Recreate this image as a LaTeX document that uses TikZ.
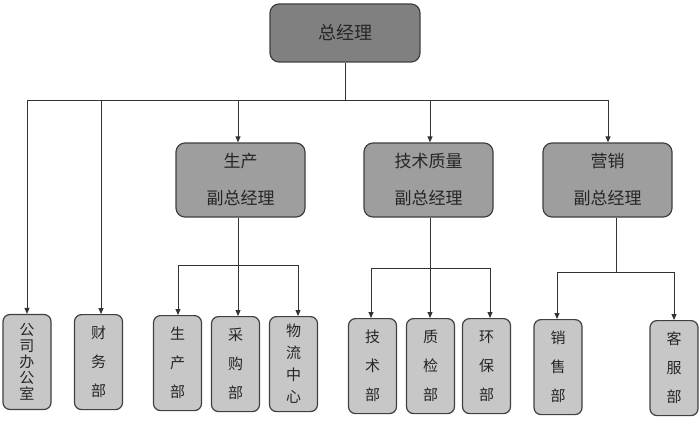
\documentclass[tikz,border=0pt]{standalone}
\usepackage{fontspec}
\setmainfont{Noto Sans CJK SC}
\usetikzlibrary{arrows.meta}
\begin{document}
\begin{tikzpicture}[x=1pt,y=-1pt,
  topbox/.style={draw=black!75,line width=1.2pt,rounded corners=9pt,fill=black!50,minimum width=150pt,minimum height=58pt,font=\fontsize{18pt}{20pt}\selectfont,text=black!85},
  midbox/.style={draw=black!75,line width=1.2pt,rounded corners=9pt,fill=black!38,minimum width=129pt,minimum height=74pt,align=center,font=\fontsize{17pt}{37pt}\selectfont,text=black!85},
  leafbox/.style={draw=black!75,line width=1.2pt,rounded corners=7pt,fill=black!22,minimum width=48pt,minimum height=95pt,align=center,font=\fontsize{15pt}{29pt}\selectfont,text=black!85},
  conn/.style={draw=black!80,line width=0.9pt},
  arr/.style={conn,-{Triangle[length=6pt,width=5pt]}}]
\useasboundingbox (0,0) rectangle (700,425);
\fill[white] (0,0) rectangle (700,425);
% top
\node[topbox] (gm) at (345,33) {总经理};
% middle
\node[midbox] (vp1) at (240.5,180) {生产\\副总经理};
\node[midbox] (vp2) at (428.5,180) {技术质量\\副总经理};
\node[midbox] (vp3) at (607.5,180) {营销\\副总经理};
% leaves
\node[leafbox,font=\fontsize{15pt}{16pt}\selectfont] (l1) at (27,362) {公\\司\\办\\公\\室};
\node[leafbox,anchor=north] (l2) at (98.5,314) {财\\务\\部};
\node[leafbox,anchor=north] (l3) at (177.5,315) {生\\产\\部};
\node[leafbox,anchor=north] (l4) at (235.5,316) {采\\购\\部};
\node[leafbox,anchor=north,font=\fontsize{15pt}{22pt}\selectfont] (l5) at (293.5,316) {物\\流\\中\\心};
\node[leafbox,anchor=north] (l6) at (372.5,318) {技\\术\\部};
\node[leafbox,anchor=north] (l7) at (430.5,318) {质\\检\\部};
\node[leafbox,anchor=north] (l8) at (486.5,318) {环\\保\\部};
\node[leafbox,anchor=north] (l9) at (558,319) {销\\售\\部};
\node[leafbox,anchor=north] (l10) at (674,320) {客\\服\\部};
% coordinates
\coordinate (b0) at (345,100);
\coordinate (bL) at (27,100);
\coordinate (bR) at (608,100);
\draw[conn] (gm.south) -- (b0);
\draw[conn] (bL) -- (bR);
\draw[arr] (bL) -- (bL |- l1.north);
\draw[arr] (101,100) -- (101,0 |- l2.north);
\draw[arr] (238,100) -- (238,0 |- vp1.north);
\draw[arr] (430,100) -- (430,0 |- vp2.north);
\draw[arr] (bR) -- (bR |- vp3.north);
% group 1
\coordinate (h1) at (238,265);
\draw[conn] (238,0 |- vp1.south) -- (h1);
\draw[conn] (178,265) -- (298,265);
\draw[arr] (178,265) -- (178,0 |- l3.north);
\draw[arr] (h1) -- (238,0 |- l4.north);
\draw[arr] (298,265) -- (298,0 |- l5.north);
% group 2
\coordinate (h2) at (430,268);
\draw[conn] (430,0 |- vp2.south) -- (h2);
\draw[conn] (371,268) -- (490,268);
\draw[arr] (371,268) -- (371,0 |- l6.north);
\draw[arr] (h2) -- (430,0 |- l7.north);
\draw[arr] (490,268) -- (490,0 |- l8.north);
% group 3
\coordinate (h3) at (616,272);
\draw[conn] (616,0 |- vp3.south) -- (h3);
\draw[conn] (557,272) -- (674,272);
\draw[arr] (557,272) -- (557,0 |- l9.north);
\draw[arr] (674,272) -- (674,0 |- l10.north);
\end{tikzpicture}
\end{document}
